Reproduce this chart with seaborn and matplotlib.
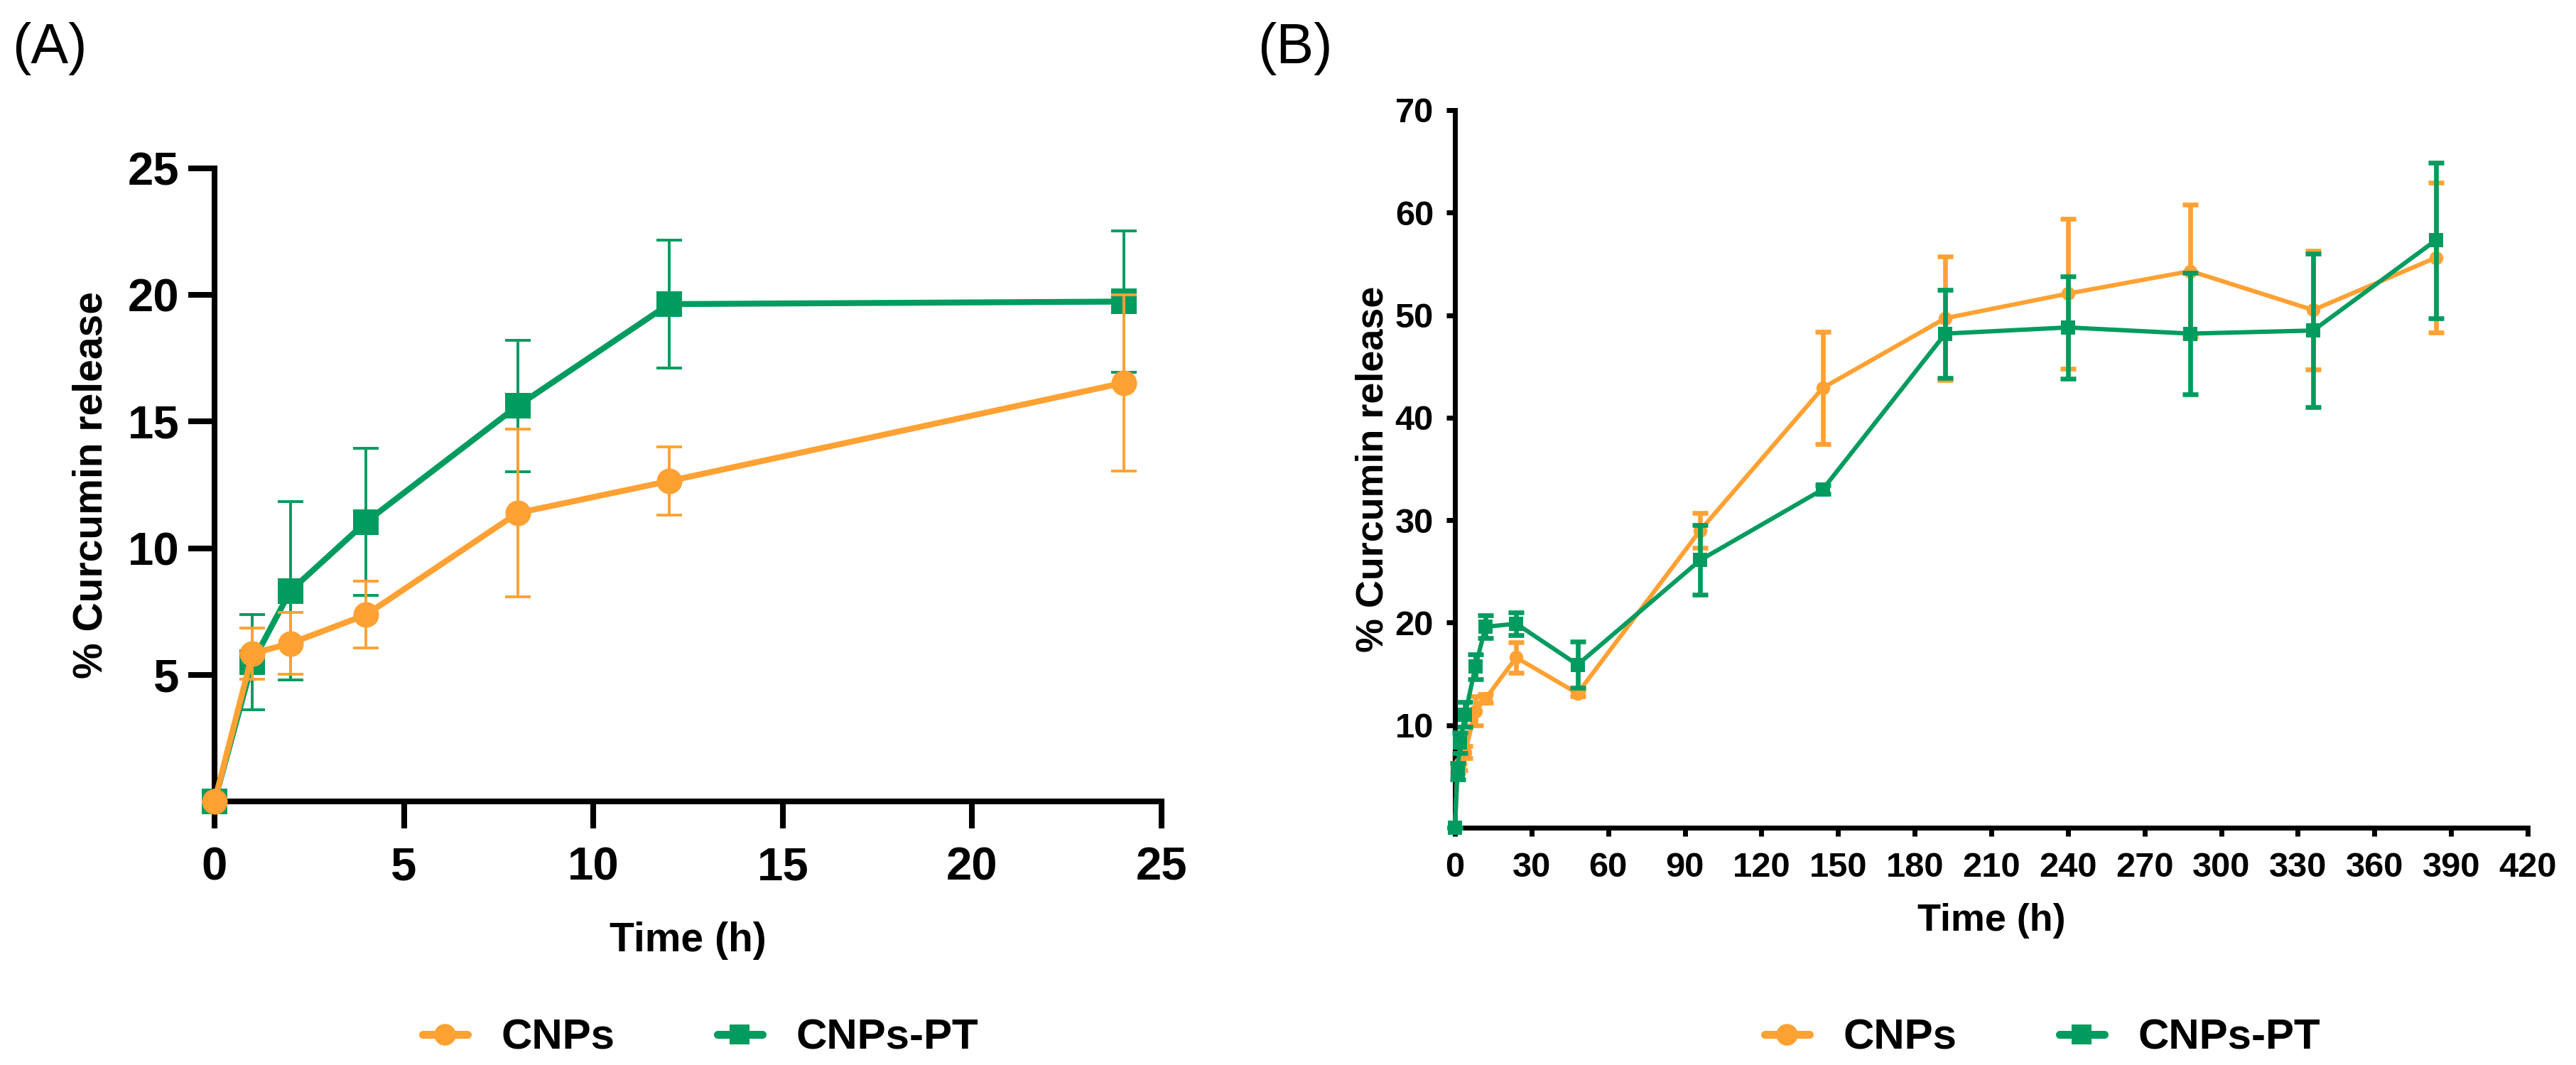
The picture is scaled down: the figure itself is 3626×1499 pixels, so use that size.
import matplotlib
matplotlib.use("Agg")
import matplotlib.pyplot as plt
import seaborn as sns
import pandas as pd
from matplotlib.lines import Line2D

# ---------------- data ----------------
series_names = ["CNPs", "CNPs-PT"]
colors = ["#FFA133", "#009B5F"]

# Panel A (0-24 h)
time_a = [0, 1, 2, 4, 8, 12, 24]
cnps_a = [0, 5.84, 6.24, 7.37, 11.39, 12.65, 16.53]
cnps_a_err = [0, 1.0, 1.23, 1.32, 3.32, 1.34, 3.47]
cnpspt_a = [0, 5.49, 8.31, 11.04, 15.62, 19.64, 19.74]
cnpspt_a_err = [0, 1.88, 3.52, 2.90, 2.60, 2.52, 2.78]
xticks_a = [0, 5, 10, 15, 20, 25]
yticks_a = [5, 10, 15, 20, 25]

# Panel B (0-384 h)
time_b = [0, 1, 2, 4, 8, 12, 24, 48, 96, 144, 192, 240, 288, 336, 384]
cnps_b = [0, 5.84, 6.24, 7.37, 11.4, 12.6, 16.6, 13.1, 29.0, 42.9, 49.7, 52.1, 54.3, 50.5, 55.6]
cnps_b_err = [0, 0.5, 0.6, 0.6, 1.4, 0.4, 1.5, 0.3, 1.7, 5.45, 6.05, 7.3, 6.5, 5.8, 7.3]
cnpspt_b = [0, 5.49, 8.31, 11.04, 15.7, 19.6, 19.9, 15.9, 26.1, 33.0, 48.2, 48.8, 48.2, 48.5, 57.3]
cnpspt_b_err = [0, 0.8, 1.0, 1.2, 1.2, 1.1, 1.1, 2.25, 3.4, 0.4, 4.3, 5.0, 5.9, 7.5, 7.6]
xticks_b = list(range(0, 421, 30))
yticks_b = [10, 20, 30, 40, 50, 60, 70]

xlabel = "Time (h)"
ylabel = "% Curcumin release"

# ---------------- style ----------------
sns.set_theme(style="ticks")
plt.rcParams["font.family"] = ["Liberation Sans", "DejaVu Sans"]
plt.rcParams["font.weight"] = "bold"
for k in ["text.color", "axes.labelcolor", "xtick.color", "ytick.color",
          "xtick.labelcolor", "ytick.labelcolor", "axes.edgecolor"]:
    plt.rcParams[k] = "black"

DPI = 200
fig = plt.figure(figsize=(3626 / DPI, 1499 / DPI), dpi=DPI)
W, H = 3626, 1499


def axes_px(x0, x1, y0, y1):
    return fig.add_axes([x0 / W, 1 - y1 / H, (x1 - x0) / W, (y1 - y0) / H])


axA = axes_px(302, 1635, 237, 1128)
axB = axes_px(2048, 3558, 155, 1165)


def draw(ax, t, series, errs, order, lw, ms, elw, cap):
    markers = ["o", "s"]
    for rank, i in enumerate(order):
        df = pd.DataFrame({"t": t, "y": series[i]})
        ax.errorbar(t, series[i], yerr=errs[i], fmt="none", ecolor=colors[i],
                    elinewidth=elw, capsize=cap, capthick=elw, clip_on=False,
                    zorder=2 + rank * 2)
        sns.lineplot(data=df, x="t", y="y", ax=ax, color=colors[i], marker=markers[i],
                     markersize=ms, markeredgewidth=0, linewidth=lw, errorbar=None,
                     clip_on=False, zorder=3 + rank * 2)


# Panel A: orange on top
draw(axA, time_a, [cnps_a, cnpspt_a], [cnps_a_err, cnpspt_a_err], order=[1, 0],
     lw=3.0, ms=13, elw=1.4, cap=6.5)
# Panel B: green on top
draw(axB, time_b, [cnps_b, cnpspt_b], [cnps_b_err, cnpspt_b_err], order=[0, 1],
     lw=2.2, ms=7, elw=2.4, cap=4)

# Axis A styling
axA.set_xlim(0, 25)
axA.set_ylim(0, 25)
axA.set_xticks(xticks_a)
axA.set_yticks(yticks_a)
axA.tick_params(axis="both", length=13.5, width=2.9, labelsize=23.5, color="black",
                labelcolor="black")
axA.tick_params(axis="x", pad=9.5)
axA.tick_params(axis="y", pad=4.3)
for s in ["left", "bottom"]:
    axA.spines[s].set_linewidth(2.9)
    axA.spines[s].set_color("black")
sns.despine(ax=axA)
axA.set_xlabel(xlabel, fontsize=20.5, fontweight="bold", color="black")
axA.set_ylabel(ylabel, fontsize=20.5, fontweight="bold", color="black")
axA.xaxis.set_label_coords(0.5, -0.19)
axA.yaxis.set_label_coords(-0.110, 0.5)

# Axis B styling
axB.set_xlim(0, 420)
axB.set_ylim(0, 70)
axB.set_xticks(xticks_b)
axB.set_yticks(yticks_b)
axB.tick_params(axis="both", length=4.3, width=2.5, labelsize=17.6, color="black",
                labelcolor="black")
axB.tick_params(axis="x", pad=8)
axB.tick_params(axis="y", pad=6.5)
for s in ["left", "bottom"]:
    axB.spines[s].set_linewidth(2.5)
    axB.spines[s].set_color("black")
sns.despine(ax=axB)
axB.set_xlabel(xlabel, fontsize=19.4, fontweight="bold", color="black")
axB.set_ylabel(ylabel, fontsize=19.4, fontweight="bold", color="black")
axB.xaxis.set_label_coords(0.5, -0.105)
axB.yaxis.set_label_coords(-0.060, 0.5)

for ax in (axA, axB):
    for lab in ax.get_xticklabels() + ax.get_yticklabels():
        lab.set_fontweight("bold")
    ax.set_facecolor("white")

# Legends
def legend_handles():
    return [Line2D([0], [0], color=colors[0], lw=4, marker="o", markersize=11, markeredgewidth=0),
            Line2D([0], [0], color=colors[1], lw=4, marker="s", markersize=10, markeredgewidth=0)]

for cx in (986 / W, 2875 / W):
    fig.legend(handles=legend_handles(), labels=series_names, loc="center",
               bbox_to_anchor=(cx, 1 - 1461 / H), ncol=2, frameon=False,
               prop={"size": 21.6, "weight": "bold"}, handlelength=1.05,
               handletextpad=0.8, columnspacing=2.4, labelcolor="black")

# Panel labels
fig.text(17 / W, 1 - 68 / H, "(A)", fontsize=28.5, fontweight="normal", va="center", ha="left")
fig.text(1770 / W, 1 - 68 / H, "(B)", fontsize=28.5, fontweight="normal", va="center", ha="left")

fig.savefig("out.png", dpi=DPI, facecolor="white")
